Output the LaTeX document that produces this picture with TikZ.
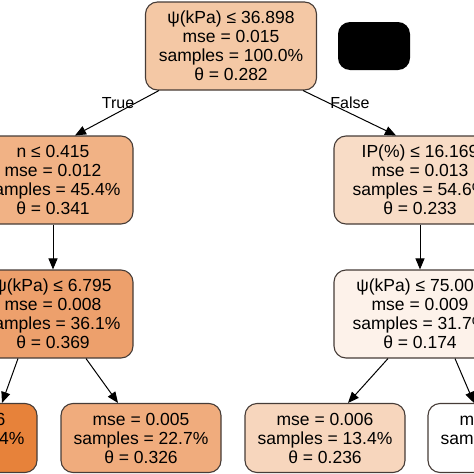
\documentclass[tikz,border=0pt]{standalone}
\usepackage{fontspec}
\setmainfont{Liberation Sans}
\usetikzlibrary{arrows.meta}
\definecolor{rootfill}{RGB}{244,200,165}
\definecolor{lonefill}{RGB}{241,178,133}
\definecolor{ronefill}{RGB}{248,220,198}
\definecolor{ltwofill}{RGB}{237,160,108}
\definecolor{rtwofill}{RGB}{253,242,234}
\definecolor{leafafill}{RGB}{231,130,58}
\definecolor{leafbfill}{RGB}{240,172,125}
\definecolor{leafcfill}{RGB}{247,214,189}
\definecolor{edgegray}{RGB}{70,60,55}
\begin{document}
\begin{tikzpicture}[
        x=1pt, y=-1pt,
        % rounded boxes as in a tree plot
        split/.style={rectangle, rounded corners=12pt, draw=edgegray, line width=1.1pt,
            fill=#1, text=black, align=center,
            minimum height=88pt, inner sep=2pt,
            font=\fontsize{17.5}{19}\selectfont},
        leaf/.style={split=#1, minimum height=69pt, minimum width=160pt},
        branch/.style={-{Triangle[length=11pt,width=9pt]}, line width=1pt, black},
        answer/.style={font=\fontsize{16}{18}\selectfont}
    ]
        \useasboundingbox (0,0) rectangle (474,474);
        % Root
        \node[split=rootfill, minimum width=171pt] (root) at (231,46)
            {ψ(kPa) ≤ 36.898\\mse = 0.015\\samples = 100.0\%\\θ = 0.282};
        \node[rectangle, rounded corners=12pt, fill=black, minimum width=72pt,
            minimum height=48pt] (mask) at (374,46) {};
        % Level one
        \node[split=lonefill, minimum width=160pt] (lone) at (53,180)
            {n ≤ 0.415\\mse = 0.012\\samples = 45.4\%\\θ = 0.341};
        \node[split=ronefill, minimum width=172pt] (rone) at (420,180)
            {IP(\%) ≤ 16.169\\mse = 0.013\\samples = 54.6\%\\θ = 0.233};
        % Level two
        \node[split=ltwofill, minimum width=160pt] (ltwo) at (53,314)
            {ψ(kPa) ≤ 6.795\\mse = 0.008\\samples = 36.1\%\\θ = 0.369};
        \node[split=rtwofill, minimum width=172pt] (rtwo) at (420,314)
            {ψ(kPa) ≤ 75.002\\mse = 0.009\\samples = 31.7\%\\θ = 0.174};
        % Leaves
        \node[leaf=leafafill] (leafa) at (-43,438)
            {mse = 0.006\\samples = 13.4\%\\θ = 0.4};
        \node[leaf=leafbfill] (leafb) at (141,438)
            {mse = 0.005\\samples = 22.7\%\\θ = 0.326};
        \node[leaf=leafcfill] (leafc) at (325,438)
            {mse = 0.006\\samples = 13.4\%\\θ = 0.236};
        \node[leaf=white] (leafd) at (508,438)
            {mse = 0.003\\samples = 18.3\%\\θ = 0.1};
        % Connections
        \draw[branch] (root.south west) ++(14,0) coordinate (rs) -- (lone.north -| 75,0);
        \draw[branch] (root.south east) ++(-14,0) coordinate (re) -- (rone.north -| 396,0);
        \node[answer] (yes) at (118,103) {True};
        \node[answer] (no) at (350,103) {False};
        \draw[branch] (lone) -- (ltwo);
        \draw[branch] (rone) -- (rtwo);
        \draw[branch] (ltwo.south -| 18,0) -- (leafa.north -| 2,0);
        \draw[branch] (ltwo.south -| 86,0) -- (leafb.north -| 118,0);
        \draw[branch] (rtwo.south -| 388,0) -- (leafc.north -| 348,0);
        \draw[branch] (rtwo.south -| 455,0) -- (leafd.north -| 474,0);
    \end{tikzpicture}
\end{document}
